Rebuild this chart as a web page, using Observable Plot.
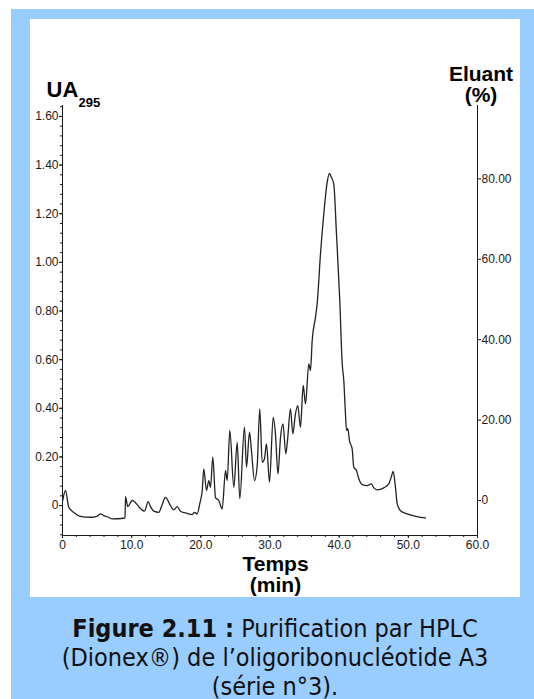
<!DOCTYPE html>
<html>
<head>
<meta charset="utf-8">
<script src="https://cdn.jsdelivr.net/npm/d3@7"></script>
<script src="https://cdn.jsdelivr.net/npm/@observablehq/plot@0.6"></script>
<style>
  html, body { margin: 0; padding: 0; background: #ffffff; }
  body { width: 534px; height: 699px; position: relative; overflow: hidden; }
  #frame { position: absolute; left: 11px; top: 9px; width: 523px; height: 690px; background: #99ccff; }
  #panel { position: absolute; left: 30px; top: 19px; width: 490px; height: 578px; background: #ffffff; }
  #panel svg { display: block; }
  #caption {
    position: absolute; left: 11px; width: 528px; top: 614px;
    text-align: center; color: #111;
    font-family: "DejaVu Sans Condensed", "DejaVu Sans", Verdana, sans-serif;
    font-stretch: condensed;
    font-size: 25px; line-height: 29px;
  }
</style>
</head>
<body>
<div id="frame"></div>
<div id="panel"></div>
<div id="caption"><b>Figure 2.11 :</b> Purification par HPLC<br>(Dionex®) de l’oligoribonucléotide A3<br>(série n°3).</div>
<script>
// Chromatogram trace: time (min) and absorbance (UA295)
const time = [0.04, 0.43, 0.91, 1.63, 2.60, 4.05, 5.06, 5.49, 5.97, 6.65, 7.19, 8.86, 9.04, 9.11, 9.44, 10.08, 10.55, 11.28, 11.85, 12.39, 12.72, 13.20, 13.92, 14.31, 14.89, 15.61, 16.09, 16.58, 17.06, 18.03, 18.75, 19.08, 19.47, 19.85, 20.20, 20.43, 20.82, 21.15, 21.40, 21.73, 22.12, 22.60, 23.09, 23.57, 23.81, 24.19, 24.77, 25.26, 25.63, 26.31, 26.60, 27.04, 27.32, 27.76, 28.15, 28.52, 28.87, 29.20, 29.49, 29.93, 30.46, 30.79, 31.15, 31.52, 31.88, 32.28, 32.53, 32.96, 33.30, 33.68, 34.02, 34.41, 34.80, 35.13, 35.61, 35.85, 36.10, 36.58, 36.82, 37.30, 37.78, 38.27, 38.60, 38.82, 39.22, 39.61, 40.09, 40.44, 40.67, 40.91, 41.06, 41.25, 41.49, 41.88, 42.11, 42.50, 42.84, 43.33, 44.05, 44.63, 45.01, 45.50, 46.45, 47.17, 47.52, 47.81, 48.14, 48.39, 48.87, 49.83, 51.28, 52.48];
const absorbance = [0.021, 0.062, -0.007, -0.028, -0.044, -0.048, -0.043, -0.034, -0.041, -0.048, -0.055, -0.052, -0.051, 0.037, -0.004, 0.021, 0.012, -0.012, -0.023, 0.016, -0.004, -0.023, -0.028, -0.004, 0.034, 0.000, -0.018, -0.004, -0.023, -0.032, -0.037, -0.028, -0.034, 0.008, 0.062, 0.151, 0.062, 0.103, 0.075, 0.199, 0.033, 0.021, -0.014, 0.144, 0.103, 0.309, 0.075, 0.260, 0.028, 0.322, 0.158, 0.302, 0.226, 0.103, 0.165, 0.398, 0.178, 0.192, 0.254, 0.096, 0.363, 0.295, 0.130, 0.281, 0.336, 0.213, 0.267, 0.398, 0.295, 0.377, 0.411, 0.322, 0.494, 0.418, 0.583, 0.555, 0.679, 0.775, 0.830, 1.035, 1.200, 1.330, 1.366, 1.353, 1.323, 1.118, 0.843, 0.583, 0.514, 0.377, 0.309, 0.316, 0.267, 0.233, 0.158, 0.144, 0.110, 0.086, 0.082, 0.089, 0.073, 0.065, 0.073, 0.089, 0.116, 0.141, 0.075, 0.007, -0.021, -0.034, -0.045, -0.051];

// Axis ticks and labels
const uaTicks = [0, 0.2, 0.4, 0.6, 0.8, 1.0, 1.2, 1.4, 1.6];
const uaLabels = ["0", "0.20", "0.40", "0.60", "0.80", "1.00", "1.20", "1.40", "1.60"];
const eluantTicks = [0, 20, 40, 60, 80];
const eluantLabels = ["0", "20.00", "40.00", "60.00", "80.00"];
const timeTicks = [0, 10, 20, 30, 40, 50, 60];
const timeLabels = ["0", "10.0", "20.0", "30.0", "40.0", "50.0", "60.0"];

// Secondary (eluant %) axis expressed on the absorbance scale
const eluantZeroUA = 0.0206;
const uaPerEluant = 0.016534;
const eluantToUA = (e) => eluantZeroUA + e * uaPerEluant;

const yMin = -0.123, yMax = 1.645;

const data = time.map((t, i) => ({t, ua: absorbance[i]}));
const uaLabelMap = new Map(uaTicks.map((v, i) => [v, uaLabels[i]]));
const eluantPos = eluantTicks.map(eluantToUA);
const eluantLabelMap = new Map(eluantPos.map((v, i) => [v, eluantLabels[i]]));
const timeLabelMap = new Map(timeTicks.map((v, i) => [v, timeLabels[i]]));

const ink = "#1a1a1a";
const axisFont = "'Liberation Sans', Arial, Helvetica, sans-serif";

const chart = Plot.plot({
  width: 490,
  height: 578,
  marginLeft: 32,
  marginRight: 43,
  marginTop: 86,
  marginBottom: 62,
  x: {domain: [0, 60]},
  y: {domain: [yMin, yMax]},
  style: {background: "#ffffff", color: ink, fontFamily: axisFont, fontSize: "12px"},
  marks: [
    Plot.ruleX([0, 60], {stroke: ink, strokeWidth: 1}),
    Plot.ruleY([yMin], {stroke: ink, strokeWidth: 1}),
    Plot.axisY(d3.range(-0.12, 1.645, 0.04), {anchor: "left", tickSize: 2, tickFormat: () => "", label: null, stroke: ink}),
    Plot.axisY(uaTicks, {anchor: "left", tickSize: 3, tickPadding: 1, tickFormat: (d) => uaLabelMap.get(d), label: null, fontSize: 12, fill: ink, stroke: ink}),
    Plot.axisY(eluantPos, {anchor: "right", tickSize: 3, tickPadding: 1, tickFormat: (d) => eluantLabelMap.get(d), label: null, fontSize: 12, fill: ink, stroke: ink}),
    Plot.axisX(d3.range(0, 61, 2), {anchor: "bottom", tickSize: 2, tickFormat: () => "", label: null, stroke: ink}),
    Plot.axisX(timeTicks, {anchor: "bottom", tickSize: 3, tickPadding: 2, tickFormat: (d) => timeLabelMap.get(d), label: null, fontSize: 12, fill: ink, stroke: ink}),
    Plot.line(data, {x: "t", y: "ua", stroke: "#222", strokeWidth: 1.3, strokeLinejoin: "round", curve: "monotone-x"}),
    Plot.text(["UA"], {frameAnchor: "top-left", dx: -16, dy: -24, textAnchor: "start", lineAnchor: "top", fontSize: 22, fontWeight: "bold", fill: "#000"}),
    Plot.text(["295"], {frameAnchor: "top-left", dx: 16, dy: -8, textAnchor: "start", lineAnchor: "top", fontSize: 13, fontWeight: "bold", fill: "#000"}),
    Plot.text(["Eluant"], {frameAnchor: "top-right", dx: 3.5, dy: -39, textAnchor: "middle", lineAnchor: "top", fontSize: 21, fontWeight: "bold", fill: "#000"}),
    Plot.text(["(%)"], {frameAnchor: "top-right", dx: 3.5, dy: -18, textAnchor: "middle", lineAnchor: "top", fontSize: 21, fontWeight: "bold", fill: "#000"}),
    Plot.text(["Temps"], {frameAnchor: "bottom", dx: 5.5, dy: 21, textAnchor: "middle", lineAnchor: "top", fontSize: 21, fontWeight: "bold", fill: "#000"}),
    Plot.text(["(min)"], {frameAnchor: "bottom", dx: 5.5, dy: 42, textAnchor: "middle", lineAnchor: "top", fontSize: 21, fontWeight: "bold", fill: "#000"})
  ]
});
document.getElementById("panel").appendChild(chart);
</script>
</body>
</html>
